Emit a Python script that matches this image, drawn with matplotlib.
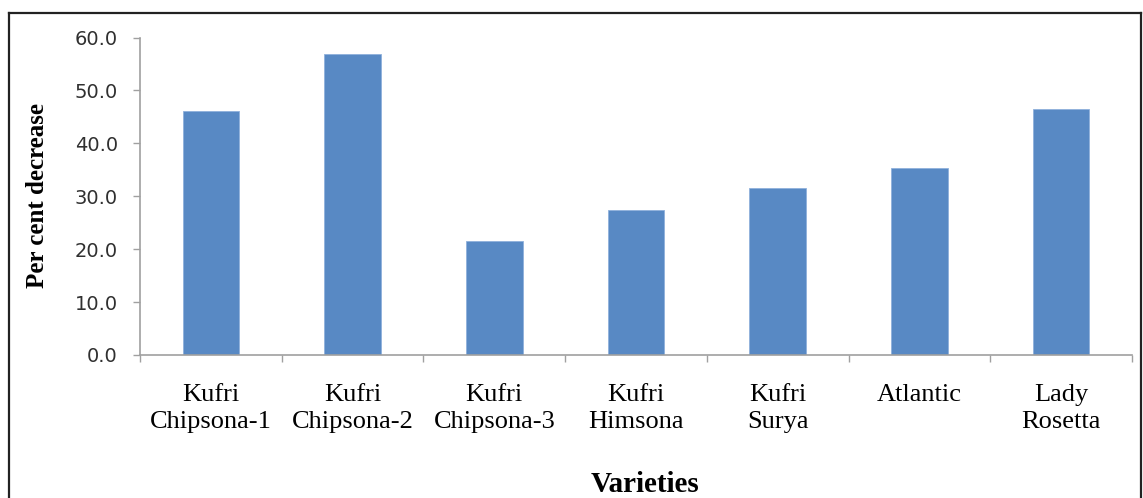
import matplotlib
matplotlib.use("Agg")
import matplotlib.pyplot as plt
from matplotlib.lines import Line2D
import numpy as np

categories = ["Kufri\nChipsona-1", "Kufri\nChipsona-2", "Kufri\nChipsona-3",
              "Kufri\nHimsona", "Kufri\nSurya", "Atlantic", "Lady\nRosetta"]
values = [46.1, 56.8, 21.5, 27.4, 31.6, 35.3, 46.5]
yticks = [0, 10, 20, 30, 40, 50, 60]

W, H = 1143, 498
fig = plt.figure(figsize=(W / 100, H / 100), dpi=100)
ax = fig.add_axes([140 / W, 1 - 355 / H, (1132 - 140) / W, (355 - 37.5) / H])

x = np.arange(len(categories))
ax.bar(x, values, width=0.4, color="#5889C4", edgecolor="#8FB1DC", linewidth=0.6, zorder=2)

ax.set_xlim(-0.5, len(categories) - 0.5)
ax.set_ylim(0, 60)
ax.set_yticks(yticks)
ax.set_yticklabels([f"{v:.1f}" for v in yticks], fontfamily="DejaVu Sans",
                   fontsize=14, color="#303030")
ax.set_xticks(x)
ax.set_xticklabels(categories, fontfamily="Liberation Serif", fontsize=19,
                   color="black", linespacing=1.3)
ax.set_xticks(np.arange(-0.5, len(categories)), minor=True)
ax.tick_params(axis="x", which="major", length=0, pad=21)
ax.tick_params(axis="x", which="minor", length=5, width=1, color="#A0A0A0", direction="out")
ax.tick_params(axis="y", which="major", length=5, width=1, color="#A0A0A0", direction="out", pad=11)

for s in ("top", "right"):
    ax.spines[s].set_visible(False)
for s in ("left", "bottom"):
    ax.spines[s].set_color("#A0A0A0")
    ax.spines[s].set_linewidth(1.2)

ax.set_ylabel("Per cent decrease", fontfamily="Liberation Serif", fontweight="bold",
              fontsize=18, color="black")
ax.yaxis.set_label_coords((38 - 140) / 992, (355 - 195) / 317.5)
ax.yaxis.label.set_va("center")
ax.set_xlabel("Varieties", fontfamily="Liberation Serif", fontweight="bold",
              fontsize=21, color="black")
ax.xaxis.set_label_coords((645 - 140) / 992, (355 - 484) / 317.5)
ax.xaxis.label.set_va("center")

# outer border
ytop = 1 - 13.5 / H
xl = 8.5 / W
xr = 1141 / W
for xs, ys in [([xl, xr], [ytop, ytop]), ([xl, xl], [0, ytop]), ([xr, xr], [0, ytop])]:
    fig.add_artist(Line2D(xs, ys, transform=fig.transFigure, color="#222222", linewidth=1.6))

fig.savefig("out.png", dpi=100)
